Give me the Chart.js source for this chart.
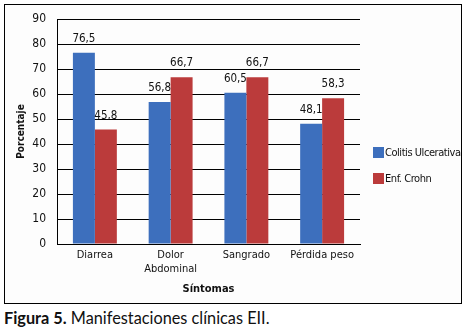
<!doctype html>
<html lang="es">
<head>
<meta charset="utf-8">
<script src="https://cdn.jsdelivr.net/npm/chart.js"></script>
<style>
    body { margin: 0; background: #fff; width: 467px; height: 331px; position: relative; overflow: hidden; }
    #frame { position: absolute; left: 4px; top: 4px; width: 456px; height: 298px; border: 1px solid #000; background: #fdfdfd; }
    #wrap { position: absolute; left: 0; top: 0; width: 467px; height: 305px; }
    .leg { position: absolute; left: 373px; white-space: nowrap; font-family: 'Liberation Sans Narrow', 'DejaVu Sans Condensed', sans-serif; font-size: 11px; letter-spacing: -0.45px; color: #111; line-height: 12px; }
    .leg span { display: inline-block; width: 11px; height: 11px; vertical-align: top; margin-right: 1px; }
    #caption { position: absolute; left: 4px; top: 308px; font-family: Lato, 'Open Sans', sans-serif; font-size: 16.3px; color: #111; }
</style>
</head>
<body>
<div id="frame"></div>
<div id="wrap"><canvas id="barChart" width="467" height="305"></canvas></div>
<div class="leg" style="top:147px"><span style="background:#3d6fbd"></span>Colitis Ulcerativa</div>
<div class="leg" style="top:173px"><span style="background:#bb3b3b"></span>Enf. Crohn</div>
<div id="caption"><b>Figura 5.</b> Manifestaciones clínicas EII.</div>

<script>
    const categorias = [['Diarrea'], ['Dolor', 'Abdominal'], ['Sangrado'], ['Pérdida peso']];
    const colitis = [76.5, 56.8, 60.5, 48.1];
    const crohn = [45.8, 66.7, 66.7, 58.3];
    const ticksY = [0, 10, 20, 30, 40, 50, 60, 70, 80, 90];

    const narrow = "'Liberation Sans Narrow', 'DejaVu Sans Condensed', sans-serif";

    // etiquetas encima de las barras, con coma decimal
    const valores = {
        id: 'valores',
        afterDatasetsDraw(chart) {
            const ctx = chart.ctx;
            ctx.save();
            ctx.font = '11.5px ' + narrow;
            ctx.fillStyle = '#111';
            ctx.textAlign = 'center';
            ctx.textBaseline = 'bottom';
            chart.data.datasets.forEach((ds, i) => {
                chart.getDatasetMeta(i).data.forEach((bar, j) => {
                    ctx.fillText(ds.data[j].toFixed(1).replace('.', ','), bar.x, bar.y - 8);
                });
            });
            ctx.restore();
        }
    };

    new Chart(document.getElementById('barChart'), {
        type: 'bar',
        data: {
            labels: categorias,
            datasets: [
                { label: 'Colitis Ulcerativa', data: colitis, backgroundColor: '#3d6fbd' },
                { label: 'Enf. Crohn', data: crohn, backgroundColor: '#bb3b3b' }
            ]
        },
        options: {
            responsive: false,
            animation: false,
            layout: { padding: { left: 5, top: 19, right: 107, bottom: 0 } },
            plugins: { legend: { display: false }, tooltip: { enabled: false } },
            datasets: { bar: { categoryPercentage: 0.58, barPercentage: 1.0 } },
            scales: {
                x: {
                    grid: { display: false, drawTicks: false },
                    border: { color: '#000', width: 1 },
                    ticks: { color: '#111', font: { family: narrow, size: 11 }, padding: 5, maxRotation: 0 },
                    title: { display: true, text: 'Síntomas', color: '#111', font: { family: narrow, size: 11, weight: 'bold' }, padding: { top: 0, bottom: 9 } },
                    afterFit: (s) => { s.height = 61; }
                },
                y: {
                    min: 0, max: 90,
                    afterBuildTicks: (s) => { s.ticks = ticksY.map(v => ({ value: v })); },
                    grid: { color: '#000', lineWidth: 1, drawTicks: false },
                    border: { color: '#000', width: 1 },
                    ticks: { color: '#111', font: { family: narrow, size: 12 }, padding: 11 },
                    title: { display: true, text: 'Porcentaje', color: '#111', font: { family: narrow, size: 10, weight: 'bold' }, padding: { top: 10, bottom: 0 } },
                    afterFit: (s) => { s.width = 52; }
                }
            }
        },
        plugins: [valores]
    });
</script>
</body>
</html>
